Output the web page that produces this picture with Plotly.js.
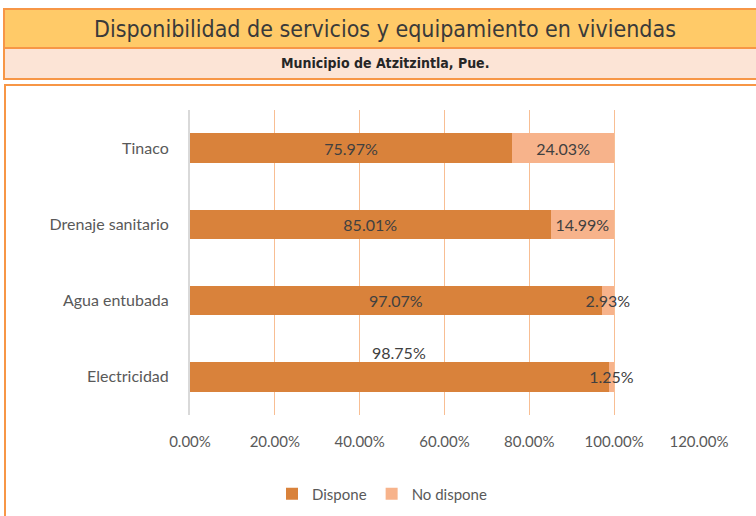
<!DOCTYPE html>
<html>
<head>
<meta charset="utf-8">
<script src="https://cdn.plot.ly/plotly-3.0.1.min.js"></script>
<style>
  body { margin: 0; background: #fff; }
  #chart { width: 756px; height: 516px; }
</style>
</head>
<body>
<div id="chart"></div>
<script>
// data
const categorias = ["Electricidad", "Agua entubada", "Drenaje sanitario", "Tinaco"];
const dispone = [0.9875, 0.9707, 0.8501, 0.7597];
const noDispone = [0.0125, 0.0293, 0.1499, 0.2403];
const xTicks = [0, 0.2, 0.4, 0.6, 0.8, 1.0, 1.2];

// plot area in pixels
const L = 190, R = 699, T = 110, B = 415;
const W = R - L, H = B - T;
function px(x) { return (x - L) / W; }
function py(y) { return (B - y) / H; }

function pct(v) { return (v * 100).toFixed(2) + "%"; }

// the Electricidad label sits above its bar, like in the original
const textDispone = dispone.map((v, i) => i === 0 ? "" : pct(v));

const traces = [
  {
    type: "bar",
    orientation: "h",
    name: "Dispone",
    y: categorias,
    x: dispone,
    text: textDispone,
    textposition: "inside",
    insidetextanchor: "middle",
    textangle: 0,
    constraintext: "none",
    textfont: { family: "Lato", size: 16, color: "#404040" },
    marker: { color: "#D9823B" },
    hoverinfo: "none"
  },
  {
    type: "bar",
    orientation: "h",
    name: "No dispone",
    y: categorias,
    x: noDispone,
    text: noDispone.map(pct),
    textposition: "inside",
    insidetextanchor: "middle",
    textangle: 0,
    constraintext: "none",
    cliponaxis: false,
    textfont: { family: "Lato", size: 16, color: "#404040" },
    marker: { color: "#F7B38B" },
    hoverinfo: "none"
  }
];

const layout = {
  width: 756,
  height: 516,
  margin: { l: L, r: 756 - R, t: T, b: 516 - B, autoexpand: false },
  paper_bgcolor: "#fff",
  plot_bgcolor: "#fff",
  barmode: "stack",
  bargap: 0.61,
  showlegend: true,
  font: { family: "Lato", color: "#595959" },
  xaxis: {
    range: [0, 1.2001],
    tickvals: xTicks,
    ticktext: xTicks.map(pct),
    tickfont: { size: 15, color: "#595959" },
    showgrid: true,
    gridcolor: "#F8BE93",
    gridwidth: 1,
    zeroline: false,
    showline: false,
    ticks: "",
    ticklen: 0,
    ticklabelstandoff: 16,
    fixedrange: true
  },
  yaxis: {
    type: "category",
    tickfont: { size: 16, color: "#595959" },
    showline: true,
    linecolor: "#D9D9D9",
    linewidth: 2,
    ticks: "",
    ticklabelstandoff: 16,
    fixedrange: true
  },
  legend: {
    orientation: "h",
    x: px(382),
    xanchor: "center",
    y: py(494),
    yanchor: "middle",
    font: { size: 15, color: "#595959" },
    itemwidth: 30,
    traceorder: "normal"
  },
  shapes: [
    // chart panel
    { type: "rect", xref: "paper", yref: "paper",
      x0: px(5), x1: px(760), y0: py(85), y1: py(530),
      line: { color: "#F79646", width: 2 }, fillcolor: "rgba(0,0,0,0)", layer: "below" },
    // header
    { type: "rect", xref: "paper", yref: "paper",
      x0: px(4), x1: px(760), y0: py(9), y1: py(48),
      line: { color: "#F79646", width: 2 }, fillcolor: "#FFCA68", layer: "below" },
    // subheader
    { type: "rect", xref: "paper", yref: "paper",
      x0: px(4), x1: px(760), y0: py(48), y1: py(79),
      line: { color: "#F79646", width: 2 }, fillcolor: "#FCE4D6", layer: "below" }
  ],
  annotations: [
    { xref: "paper", yref: "paper", x: px(385), y: py(29), xanchor: "center", yanchor: "middle",
      text: "Disponibilidad de servicios y equipamiento en viviendas", showarrow: false,
      font: { family: "Liberation Sans Narrow, DejaVu Sans Condensed, Arial", size: 23, color: "#3A3A3A" } },
    { xref: "paper", yref: "paper", x: px(385), y: py(63), xanchor: "center", yanchor: "middle",
      text: "<b>Municipio de Atzitzintla, Pue.</b>", showarrow: false,
      font: { family: "Liberation Sans Narrow, DejaVu Sans Condensed, Arial", size: 14, color: "#262626" } },
    { xref: "x", yref: "y", x: dispone[0] / 2, y: categorias[0], yshift: 24,
      text: pct(dispone[0]), showarrow: false,
      font: { family: "Lato", size: 16, color: "#404040" } }
  ]
};

Plotly.newPlot("chart", traces, layout, { displayModeBar: false, staticPlot: true });
</script>
</body>
</html>
